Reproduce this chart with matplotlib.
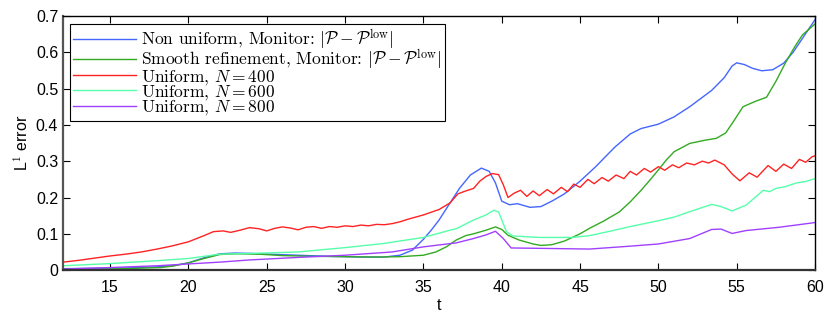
import matplotlib
matplotlib.use("Agg")
import matplotlib.pyplot as plt

# ---- data ----
t_blue = [12, 14, 16, 18, 19, 20, 21, 22, 23, 24, 25, 27, 29, 31, 32.5, 33.5, 34.3, 35, 35.5, 36, 36.7, 37.3, 38, 38.7, 39.2, 39.6, 40.0, 40.5, 41.0, 41.8, 42.5, 43.2, 44, 45, 46, 47.2, 48.2, 48.9, 50, 51, 52, 53.4, 54.2, 54.7, 55.0, 55.5, 56.0, 56.6, 57.3, 58, 58.6, 59.3, 60]
v_blue = [0.004, 0.005, 0.006, 0.009, 0.012, 0.02, 0.034, 0.045, 0.047, 0.046, 0.044, 0.041, 0.038, 0.036, 0.036, 0.041, 0.055, 0.085, 0.11, 0.138, 0.185, 0.225, 0.262, 0.281, 0.272, 0.24, 0.19, 0.18, 0.183, 0.173, 0.175, 0.19, 0.21, 0.245, 0.285, 0.338, 0.375, 0.39, 0.402, 0.422, 0.45, 0.495, 0.53, 0.562, 0.571, 0.566, 0.556, 0.549, 0.552, 0.57, 0.6, 0.645, 0.69]

t_green = [12, 15, 18.2, 19, 20, 21, 22, 23, 24.5, 26, 28, 30, 32, 33.5, 35, 35.8, 36.5, 37.1, 37.7, 38.2, 39, 39.6, 40.0, 40.4, 41.1, 42.0, 42.5, 43.2, 44, 45, 45.6, 46.5, 47.5, 48.2, 48.9, 49.5, 50, 50.5, 51, 52, 53, 53.7, 54.3, 54.8, 55.4, 56.2, 56.9, 57.5, 58.1, 58.7, 59.2, 60]
v_green = [0.002, 0.003, 0.007, 0.011, 0.02, 0.032, 0.043, 0.045, 0.044, 0.04, 0.038, 0.037, 0.036, 0.037, 0.041, 0.05, 0.065, 0.083, 0.095, 0.1, 0.11, 0.119, 0.112, 0.096, 0.083, 0.072, 0.068, 0.07, 0.08, 0.1, 0.115, 0.135, 0.16, 0.188, 0.22, 0.25, 0.276, 0.303, 0.326, 0.349, 0.358, 0.363, 0.378, 0.41, 0.45, 0.465, 0.476, 0.52, 0.57, 0.615, 0.648, 0.678]

t_red = [12, 13, 14, 15, 16, 17, 18, 19, 20, 21, 21.6, 22.2, 22.7, 23.3, 23.9, 24.5, 25, 25.5, 26, 26.5, 27, 27.5, 28, 28.5, 29, 29.5, 30, 30.5, 31, 31.5, 32, 32.5, 33, 33.5, 34, 35, 36, 36.7, 37.2, 37.7, 38.2, 38.6, 39.0, 39.4, 39.8, 40.1, 40.4, 40.8, 41.2, 41.6, 42.0, 42.4, 42.9, 43.3, 43.8, 44.2, 44.6, 45.0, 45.5, 45.9, 46.4, 46.8, 47.3, 47.8, 48.2, 48.6, 49.1, 49.5, 50.0, 50.4, 50.9, 51.3, 51.8, 52.3, 52.8, 53.2, 53.6, 54.2, 54.7, 55.2, 55.8, 56.3, 57.0, 57.5, 58.0, 58.5, 59.0, 59.4, 59.8, 60]
v_red = [0.022, 0.027, 0.033, 0.039, 0.044, 0.05, 0.058, 0.067, 0.078, 0.095, 0.106, 0.108, 0.104, 0.11, 0.117, 0.114, 0.108, 0.115, 0.119, 0.116, 0.111, 0.118, 0.12, 0.115, 0.12, 0.118, 0.122, 0.12, 0.124, 0.122, 0.126, 0.125, 0.128, 0.133, 0.14, 0.152, 0.167, 0.185, 0.21, 0.218, 0.225, 0.245, 0.258, 0.266, 0.263, 0.235, 0.2, 0.212, 0.22, 0.203, 0.218, 0.205, 0.222, 0.21, 0.228, 0.216, 0.237, 0.228, 0.25, 0.238, 0.255, 0.245, 0.262, 0.252, 0.272, 0.262, 0.28, 0.27, 0.285, 0.275, 0.29, 0.282, 0.295, 0.29, 0.3, 0.295, 0.303, 0.29, 0.265, 0.246, 0.268, 0.256, 0.288, 0.272, 0.292, 0.28, 0.305, 0.297, 0.312, 0.315]

t_cyan = [12, 15, 18, 20, 22, 24, 27, 30, 32.4, 35, 36.7, 37.1, 38.2, 39.0, 39.5, 39.8, 40.3, 40.7, 42.4, 44.5, 45.6, 47, 48.2, 50, 51, 52, 53.4, 54, 54.7, 55.6, 56.7, 57.1, 57.5, 58.1, 58.8, 59.4, 60]
v_cyan = [0.012, 0.018, 0.026, 0.032, 0.044, 0.046, 0.05, 0.062, 0.073, 0.09, 0.11, 0.114, 0.138, 0.152, 0.165, 0.16, 0.106, 0.094, 0.09, 0.09, 0.095, 0.108, 0.12, 0.136, 0.146, 0.161, 0.181, 0.175, 0.163, 0.179, 0.22, 0.216, 0.225, 0.23, 0.24, 0.244, 0.252]

t_purple = [12, 15, 18, 20, 22, 23.9, 27, 30, 33, 35, 36.7, 37.1, 38.2, 39.0, 39.6, 40.1, 40.6, 42.4, 45.6, 48.2, 50, 52, 53.4, 54, 54.7, 55.6, 57.7, 60]
v_purple = [0.003, 0.007, 0.012, 0.017, 0.022, 0.028, 0.035, 0.041, 0.05, 0.064, 0.073, 0.075, 0.087, 0.097, 0.107, 0.087, 0.061, 0.06, 0.058, 0.066, 0.072, 0.087, 0.112, 0.113, 0.101, 0.109, 0.118, 0.131]

labels = [r"Non uniform, Monitor: $|\mathcal{P}-\mathcal{P}^{\rm low}|$",
          r"Smooth refinement, Monitor: $|\mathcal{P}-\mathcal{P}^{\rm low}|$",
          r"Uniform, $N=400$",
          r"Uniform, $N=600$",
          r"Uniform, $N=800$"]
colors = ["#4466ff", "#33aa22", "#ff2222", "#55ffaa", "#a040ff"]
xticks = [15, 20, 25, 30, 35, 40, 45, 50, 55, 60]
yticks = [0, 0.1, 0.2, 0.3, 0.4, 0.5, 0.6, 0.7]
yticklabels = ["0", "0.1", "0.2", "0.3", "0.4", "0.5", "0.6", "0.7"]

plt.rcParams['mathtext.fontset'] = 'cm'
plt.rcParams['font.family'] = ['Liberation Sans', 'DejaVu Sans']

fig = plt.figure(figsize=(8.3, 3.13), dpi=100)
ax = fig.add_axes([0.076, 0.137, 0.906, 0.812])

series = [(t_blue, v_blue), (t_green, v_green), (t_red, v_red), (t_cyan, v_cyan), (t_purple, v_purple)]
for (t, v), c, lab in zip(series, colors, labels):
    ax.plot(t, v, color=c, lw=1.0, label=lab)

ax.set_xlim(12, 60)
ax.set_ylim(0, 0.7)
ax.set_xticks(xticks)
ax.set_yticks(yticks)
ax.set_yticklabels(yticklabels)
ax.tick_params(direction='in', top=True, right=True, length=5, labelsize=11.5, width=0.8)
ax.tick_params(axis='x', pad=7)
ax.set_xlabel("t", fontsize=11.5, labelpad=2)
ax.set_ylabel(r"L$^1$ error", fontsize=11.5, labelpad=4)
for s in ax.spines.values():
    s.set_linewidth(1.0)
ax.spines['left'].set_color('#555555')
ax.spines['bottom'].set_color('#333333')
ax.spines['left'].set_linewidth(1.6)
ax.spines['bottom'].set_linewidth(1.6)

leg = ax.legend(loc='upper left', bbox_to_anchor=(0.009, 0.97), fancybox=False,
                edgecolor='black', framealpha=1, handlelength=3.6, handletextpad=0.3,
                labelspacing=-0.2, borderpad=0.2, borderaxespad=0.0,
                prop={'family': 'cmr10', 'size': 12.5})
leg.get_frame().set_linewidth(0.8)

fig.savefig("out.png", dpi=100)
